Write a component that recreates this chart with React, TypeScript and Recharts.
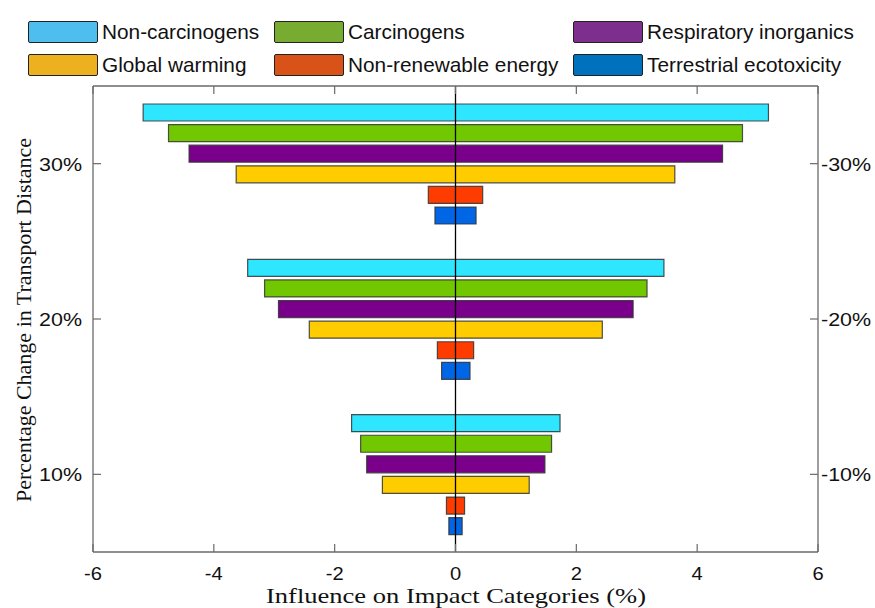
import React from 'react';
import { BarChart, Bar, XAxis, YAxis, ReferenceLine } from 'recharts';

const groups = ['30%', '20%', '10%'];
const rightLabels = ['-30%', '-20%', '-10%'];
const xTicks = [-6, -4, -2, 0, 2, 4, 6];

const seriesNames = [
  'Non-carcinogens',
  'Carcinogens',
  'Respiratory inorganics',
  'Global warming',
  'Non-renewable energy',
  'Terrestrial ecotoxicity',
];
const seriesKeys = ['nc', 'c', 'ri', 'gw', 'nre', 'te'];
const barColors = ['#2EE6FF', '#72C800', '#7A008C', '#FFCC00', '#FF3C00', '#0066E6'];
const legendColors = ['#4DBEEE', '#77AC30', '#7E2F8E', '#EDB120', '#D95319', '#0072BD'];

const nonCarcinogensNeg = [-5.17, -3.44, -1.72];
const nonCarcinogensPos = [5.18, 3.45, 1.73];
const carcinogensNeg = [-4.75, -3.16, -1.57];
const carcinogensPos = [4.75, 3.17, 1.59];
const respiratoryNeg = [-4.41, -2.93, -1.47];
const respiratoryPos = [4.42, 2.94, 1.48];
const globalWarmingNeg = [-3.63, -2.42, -1.21];
const globalWarmingPos = [3.63, 2.43, 1.22];
const nonRenewableNeg = [-0.45, -0.3, -0.15];
const nonRenewablePos = [0.45, 0.3, 0.15];
const terrestrialNeg = [-0.34, -0.23, -0.11];
const terrestrialPos = [0.34, 0.24, 0.11];

const negs = [nonCarcinogensNeg, carcinogensNeg, respiratoryNeg, globalWarmingNeg, nonRenewableNeg, terrestrialNeg];
const poss = [nonCarcinogensPos, carcinogensPos, respiratoryPos, globalWarmingPos, nonRenewablePos, terrestrialPos];

const data = groups.map((g, i) => {
  const row: any = { group: g };
  seriesKeys.forEach((k, s) => {
    row[k] = [negs[s][i], poss[s][i]];
  });
  return row;
});

const FRAME = '#6a6a6a';
const SANS = '"Liberation Sans", Arial, sans-serif';
const SERIF = '"Liberation Serif", "Times New Roman", serif';

const BottomTick = (props: any) => {
  const { x, y, payload } = props;
  return (
    <g>
      <line x1={x} x2={x} y1={y} y2={y - 8} stroke={FRAME} strokeWidth={1.2} />
      <text
        x={0}
        y={0}
        transform={`translate(${x},${y + 28}) scale(1.12,1)`}
        textAnchor="middle"
        fontFamily={SANS}
        fontSize={18}
        fill="#111"
      >
        {payload.value}
      </text>
    </g>
  );
};

const TopTick = (props: any) => {
  const { x, y } = props;
  return <line x1={x} x2={x} y1={y} y2={y + 8} stroke={FRAME} strokeWidth={1.2} />;
};

const LeftTick = (props: any) => {
  const { x, y, payload } = props;
  return (
    <g>
      <line x1={x} x2={x + 8} y1={y} y2={y} stroke={FRAME} strokeWidth={1.2} />
      <text
        x={0}
        y={0}
        transform={`translate(${x - 11},${y + 7}) scale(1.13,1)`}
        textAnchor="end"
        fontFamily={SANS}
        fontSize={19}
        fill="#111"
      >
        {payload.value}
      </text>
    </g>
  );
};

const RightTick = (props: any) => {
  const { x, y, payload } = props;
  const idx = groups.indexOf(payload.value);
  return (
    <g>
      <line x1={x} x2={x - 8} y1={y} y2={y} stroke={FRAME} strokeWidth={1.2} />
      <text
        x={0}
        y={0}
        transform={`translate(${x + 3},${y + 7}) scale(1.13,1)`}
        textAnchor="start"
        fontFamily={SANS}
        fontSize={19}
        fill="#111"
      >
        {rightLabels[idx]}
      </text>
    </g>
  );
};

const legendCols = [28, 274, 573];
const legendRows = [20, 53];

export default function App() {
  return (
    <div style={{ position: 'absolute', left: 0, top: 0, width: 875, height: 608, background: '#fff' }}>
      <BarChart
        width={875}
        height={608}
        data={data}
        layout="vertical"
        margin={{ top: 76, right: 7, bottom: 16, left: 33 }}
        barSize={17}
        barGap={3.6}
      >
        <XAxis
          type="number"
          domain={[-6, 6]}
          ticks={xTicks}
          allowDataOverflow
          height={40}
          tickSize={0}
          tickMargin={0}
          tickLine={false}
          axisLine={{ stroke: FRAME, strokeWidth: 1.3 }}
          tick={<BottomTick />}
          interval={0}
        />
        <XAxis
          xAxisId="top"
          orientation="top"
          type="number"
          domain={[-6, 6]}
          ticks={xTicks}
          allowDataOverflow
          height={10}
          tickSize={0}
          tickMargin={0}
          tickLine={false}
          axisLine={{ stroke: FRAME, strokeWidth: 1.3 }}
          tick={<TopTick />}
          interval={0}
        />
        <YAxis
          type="category"
          dataKey="group"
          width={60}
          tickSize={0}
          tickMargin={0}
          tickLine={false}
          axisLine={{ stroke: FRAME, strokeWidth: 1.3 }}
          tick={<LeftTick />}
          interval={0}
        />
        <YAxis
          yAxisId="right"
          orientation="right"
          type="category"
          dataKey="group"
          width={50}
          tickSize={0}
          tickMargin={0}
          tickLine={false}
          axisLine={{ stroke: FRAME, strokeWidth: 1.3 }}
          tick={<RightTick />}
          interval={0}
        />
        {seriesKeys.map((k, i) => (
          <Bar
            key={k}
            dataKey={k}
            name={seriesNames[i]}
            fill={barColors[i]}
            stroke="#333"
            strokeOpacity={0.85}
            strokeWidth={1.2}
            isAnimationActive={false}
          />
        ))}
        <ReferenceLine x={0} stroke="#000" strokeWidth={1.3} />
      </BarChart>

      {seriesNames.map((name, i) => {
        const col = i % 3;
        const row = Math.floor(i / 3);
        return (
          <div
            key={name}
            style={{
              position: 'absolute',
              left: legendCols[col],
              top: legendRows[row],
              height: 24,
              display: 'flex',
              alignItems: 'center',
              whiteSpace: 'nowrap',
            }}
          >
            <div
              style={{
                width: 68,
                height: 20,
                background: legendColors[i],
                border: '1.6px solid #222',
                borderRadius: 2,
              }}
            />
            <span style={{ marginLeft: 4, fontFamily: SANS, fontSize: 20.8, color: '#111' }}>{name}</span>
          </div>
        );
      })}

      <svg
        width={875}
        height={608}
        style={{ position: 'absolute', left: 0, top: 0, pointerEvents: 'none' }}
      >
        <text
          transform="translate(23,320) rotate(-90)"
          textAnchor="middle"
          dominantBaseline="central"
          fontFamily={SERIF}
          fontSize={22}
          fill="#111"
        >
          Percentage Change in Transport Distance
        </text>
        <text
          x={456}
          y={603}
          textAnchor="middle"
          fontFamily={SERIF}
          fontSize={22}
          textLength={380}
          lengthAdjust="spacingAndGlyphs"
          fill="#111"
        >
          Influence on Impact Categories (%)
        </text>
      </svg>
    </div>
  );
}
